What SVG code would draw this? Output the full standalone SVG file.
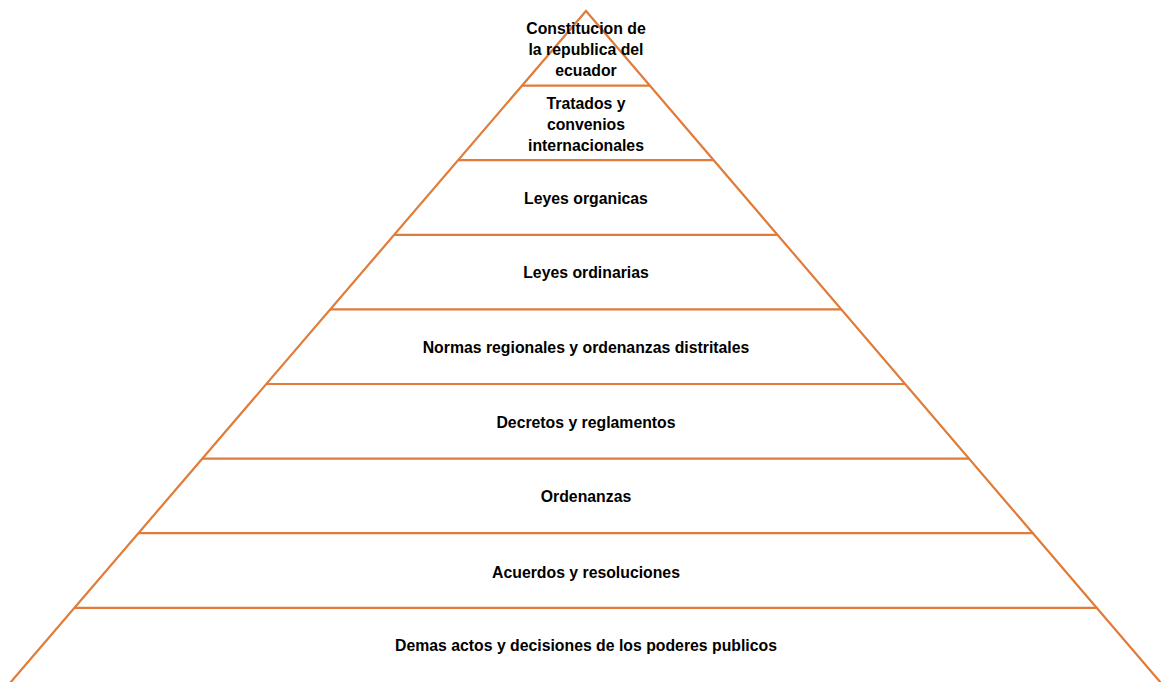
<svg xmlns="http://www.w3.org/2000/svg" width="1161" height="682" viewBox="0 0 1161 682">
<style>
.e{stroke:#E07B39;stroke-width:2.2;fill:none;stroke-linecap:butt}
.t{font-family:"Liberation Sans",Arial,sans-serif;font-weight:bold;font-size:15.8px;fill:#000;text-anchor:middle}
</style>
<rect width="1161" height="682" fill="#fff"/>
<g id="connectors">
<polyline class="e" points="10,683 586,11 1161,683"/>
<line class="e" x1="522.1" y1="85.6" x2="649.9" y2="85.6"/>
<line class="e" x1="458.2" y1="160.2" x2="713.8" y2="160.2"/>
<line class="e" x1="394.2" y1="234.8" x2="777.8" y2="234.8"/>
<line class="e" x1="330.3" y1="309.4" x2="841.7" y2="309.4"/>
<line class="e" x1="266.4" y1="384" x2="905.6" y2="384"/>
<line class="e" x1="202.4" y1="458.6" x2="969.6" y2="458.6"/>
<line class="e" x1="138.5" y1="533.2" x2="1033.5" y2="533.2"/>
<line class="e" x1="74.6" y1="607.8" x2="1097.4" y2="607.8"/>
</g>
<g id="n1"><text class="t" x="586" y="34">Constitucion de</text><text class="t" x="586" y="55">la republica del</text><text class="t" x="586" y="76">ecuador</text></g>
<g id="n2"><text class="t" x="586" y="109">Tratados y</text><text class="t" x="586" y="130">convenios</text><text class="t" x="586" y="151">internacionales</text></g>
<g id="n3"><text class="t" x="586" y="204">Leyes organicas</text></g>
<g id="n4"><text class="t" x="586" y="278">Leyes ordinarias</text></g>
<g id="n5"><text class="t" x="586" y="353">Normas regionales y ordenanzas distritales</text></g>
<g id="n6"><text class="t" x="586" y="428">Decretos y reglamentos</text></g>
<g id="n7"><text class="t" x="586" y="502">Ordenanzas</text></g>
<g id="n8"><text class="t" x="586" y="578">Acuerdos y resoluciones</text></g>
<g id="n9"><text class="t" x="586" y="651">Demas actos y decisiones de los poderes publicos</text></g>
</svg>
